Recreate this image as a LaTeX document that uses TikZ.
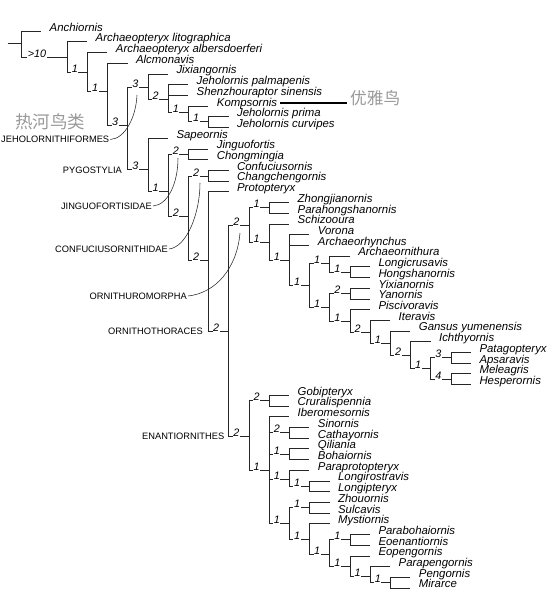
\documentclass[tikz,border=0pt]{standalone}
\usepackage{fontspec}
\setmainfont{Liberation Sans}
\newfontfamily\cjkfont{Noto Sans CJK SC}
\usepackage{tikz}

\tikzset{
  branch/.style={line width=0.55pt, draw=black!85},
  taxon/.style={anchor=base west, inner xsep=8.5pt, inner ysep=0pt, outer sep=0pt, font=\fontsize{11.4}{12}\selectfont\itshape},
  support/.style={anchor=base west, xshift=4pt, inner sep=0.6pt, fill=white, font=\fontsize{10.8}{11}\selectfont\itshape},
  clade/.style={anchor=east, inner sep=1pt, font=\fontsize{9.3}{10}\selectfont},
  zhnote/.style={anchor=west, inner sep=0pt, text=black!40, font=\cjkfont\fontsize{17.5}{18}\selectfont},
}

\begin{document}
\begin{tikzpicture}[x=1pt,y=-1pt]
\useasboundingbox (0,0) rectangle (553,600);

% Internal nodes of the tree
\coordinate (stem) at (7.5,43.5);
\coordinate (root) at (21,43.5);
\coordinate (n1) at (67,57);
\coordinate (n2) at (87.2,72);
\coordinate (n3) at (107.4,91);
\coordinate (n4) at (127.6,125);
\coordinate (jehol) at (147.8,87);
\coordinate (n5) at (168,99);
\coordinate (n6) at (188.2,112);
\coordinate (n7) at (208.4,121.5);
\coordinate (pygo) at (147.8,169.5);
\coordinate (n8) at (168,191);
\coordinate (jingu) at (188.2,154);
\coordinate (n9) at (188.2,216);
\coordinate (confu) at (208.4,176);
\coordinate (n10) at (208.4,260.5);
\coordinate (othor) at (228.6,331);
\coordinate (ormor) at (248.8,225);
\coordinate (n11) at (269,207.5);
\coordinate (n12) at (269,242);
\coordinate (n13) at (289.2,260.5);
\coordinate (n14) at (309.4,285);
\coordinate (n15) at (329.6,263.5);
\coordinate (n16) at (349.8,272);
\coordinate (n17) at (329.6,307);
\coordinate (n18) at (349.8,293.4);
\coordinate (n19) at (349.8,321);
\coordinate (n20) at (370,332);
\coordinate (n21) at (390.2,343.5);
\coordinate (n22) at (410.4,355);
\coordinate (n23) at (430.6,368.5);
\coordinate (n24) at (450.8,357.7);
\coordinate (n25) at (450.8,379.1);
\coordinate (enant) at (248.8,436);
\coordinate (n26) at (269,400.5);
\coordinate (n27) at (269,470);
\coordinate (n28) at (289.2,432.6);
\coordinate (n29) at (289.2,454);
\coordinate (n30) at (289.2,479);
\coordinate (n31) at (309.4,486.2);
\coordinate (n32) at (289.2,523);
\coordinate (n33) at (309.4,507.6);
\coordinate (n34) at (309.4,539);
\coordinate (n35) at (329.6,554);
\coordinate (n36) at (349.8,539.7);
\coordinate (n37) at (349.8,566);
\coordinate (n38) at (370,576);
\coordinate (n39) at (390.2,582.6);

% Text Node: taxa
\node[taxon] (anchiornis) at (41.2,31) {Anchiornis};
\node[taxon] (litographica) at (87.2,41.7) {Archaeopteryx litographica};
\node[taxon] (albersdoerferi) at (107.4,52.4) {Archaeopteryx albersdoerferi};
\node[taxon] (alcmonavis) at (127.6,63.1) {Alcmonavis};
\node[taxon] (jixiangornis) at (168,73.8) {Jixiangornis};
\node[taxon] (palmapenis) at (188.2,84.6) {Jeholornis palmapenis};
\node[taxon] (shenzhouraptor) at (188.2,95.3) {Shenzhouraptor sinensis};
\node[taxon] (kompsornis) at (208.4,106) {Kompsornis};
\node[taxon] (prima) at (228.6,116.7) {Jeholornis prima};
\node[taxon] (curvipes) at (228.6,127.4) {Jeholornis curvipes};
\node[taxon] (sapeornis) at (168,138.1) {Sapeornis};
\node[taxon] (jinguofortis) at (208.4,148.8) {Jinguofortis};
\node[taxon] (chongmingia) at (208.4,159.5) {Chongmingia};
\node[taxon] (confuciusornis) at (228.6,170.2) {Confuciusornis};
\node[taxon] (changchengornis) at (228.6,180.9) {Changchengornis};
\node[taxon] (protopteryx) at (228.6,191.7) {Protopteryx};
\node[taxon] (zhongjianornis) at (289.2,202.4) {Zhongjianornis};
\node[taxon] (parahongshanornis) at (289.2,213.1) {Parahongshanornis};
\node[taxon] (schizooura) at (289.2,223.8) {Schizooura};
\node[taxon] (vorona) at (309.4,234.5) {Vorona};
\node[taxon] (archaeorhynchus) at (309.4,245.2) {Archaeorhynchus};
\node[taxon] (archaeornithura) at (349.8,255.9) {Archaeornithura};
\node[taxon] (longicrusavis) at (370,266.6) {Longicrusavis};
\node[taxon] (hongshanornis) at (370,277.3) {Hongshanornis};
\node[taxon] (yixianornis) at (370,288) {Yixianornis};
\node[taxon] (yanornis) at (370,298.8) {Yanornis};
\node[taxon] (piscivoravis) at (370,309.5) {Piscivoravis};
\node[taxon] (iteravis) at (390.2,320.2) {Iteravis};
\node[taxon] (gansus) at (410.4,330.9) {Gansus yumenensis};
\node[taxon] (ichthyornis) at (430.6,341.6) {Ichthyornis};
\node[taxon] (patagopteryx) at (471,352.3) {Patagopteryx};
\node[taxon] (apsaravis) at (471,363) {Apsaravis};
\node[taxon] (meleagris) at (471,373.7) {Meleagris};
\node[taxon] (hesperornis) at (471,384.4) {Hesperornis};
\node[taxon] (gobipteryx) at (289.2,395.1) {Gobipteryx};
\node[taxon] (cruralispennia) at (289.2,405.9) {Cruralispennia};
\node[taxon] (iberomesornis) at (289.2,416.6) {Iberomesornis};
\node[taxon] (sinornis) at (309.4,427.3) {Sinornis};
\node[taxon] (cathayornis) at (309.4,438) {Cathayornis};
\node[taxon] (qiliania) at (309.4,448.7) {Qiliania};
\node[taxon] (bohaiornis) at (309.4,459.4) {Bohaiornis};
\node[taxon] (paraprotopteryx) at (309.4,470.1) {Paraprotopteryx};
\node[taxon] (longirostravis) at (329.6,480.8) {Longirostravis};
\node[taxon] (longipteryx) at (329.6,491.5) {Longipteryx};
\node[taxon] (zhouornis) at (329.6,502.2) {Zhouornis};
\node[taxon] (sulcavis) at (329.6,513) {Sulcavis};
\node[taxon] (mystiornis) at (329.6,523.7) {Mystiornis};
\node[taxon] (parabohaiornis) at (370,534.4) {Parabohaiornis};
\node[taxon] (eoenantiornis) at (370,545.1) {Eoenantiornis};
\node[taxon] (eopengornis) at (370,555.8) {Eopengornis};
\node[taxon] (parapengornis) at (390.2,566.5) {Parapengornis};
\node[taxon] (pengornis) at (410.4,577.2) {Pengornis};
\node[taxon] (mirarce) at (410.4,587.9) {Mirarce};

% Branches
\draw[branch] (stem) -- (root);
\draw[branch] (root) |- (anchiornis.base west) (root) |- (n1);
\draw[branch] (n1) |- (litographica.base west) (n1) |- (n2);
\draw[branch] (n2) |- (albersdoerferi.base west) (n2) |- (n3);
\draw[branch] (n3) |- (alcmonavis.base west) (n3) |- (n4);
\draw[branch] (n4) |- (jehol) (n4) |- (pygo);
\draw[branch] (jehol) |- (jixiangornis.base west) (jehol) |- (n5);
\draw[branch] (n5) |- (palmapenis.base west) (n5) |- (shenzhouraptor.base west) (n5) |- (n6);
\draw[branch] (n6) |- (kompsornis.base west) (n6) |- (n7);
\draw[branch] (n7) |- (prima.base west) (n7) |- (curvipes.base west);
\draw[branch] (pygo) |- (sapeornis.base west) (pygo) |- (n8);
\draw[branch] (n8) |- (jingu) (n8) |- (n9);
\draw[branch] (jingu) |- (jinguofortis.base west) (jingu) |- (chongmingia.base west);
\draw[branch] (n9) |- (confu) (n9) |- (n10);
\draw[branch] (confu) |- (confuciusornis.base west) (confu) |- (changchengornis.base west);
\draw[branch] (n10) |- (protopteryx.base west) (n10) |- (othor);
\draw[branch] (othor) |- (ormor) (othor) |- (enant);
\draw[branch] (ormor) |- (n11) (ormor) |- (n12);
\draw[branch] (n11) |- (zhongjianornis.base west) (n11) |- (parahongshanornis.base west);
\draw[branch] (n12) |- (schizooura.base west) (n12) |- (n13);
\draw[branch] (n13) |- (vorona.base west) (n13) |- (archaeorhynchus.base west) (n13) |- (n14);
\draw[branch] (n14) |- (n15) (n14) |- (n17);
\draw[branch] (n15) |- (archaeornithura.base west) (n15) |- (n16);
\draw[branch] (n16) |- (longicrusavis.base west) (n16) |- (hongshanornis.base west);
\draw[branch] (n17) |- (n18) (n17) |- (n19);
\draw[branch] (n18) |- (yixianornis.base west) (n18) |- (yanornis.base west);
\draw[branch] (n19) |- (piscivoravis.base west) (n19) |- (n20);
\draw[branch] (n20) |- (iteravis.base west) (n20) |- (n21);
\draw[branch] (n21) |- (gansus.base west) (n21) |- (n22);
\draw[branch] (n22) |- (ichthyornis.base west) (n22) |- (n23);
\draw[branch] (n23) |- (n24) (n23) |- (n25);
\draw[branch] (n24) |- (patagopteryx.base west) (n24) |- (apsaravis.base west);
\draw[branch] (n25) |- (meleagris.base west) (n25) |- (hesperornis.base west);
\draw[branch] (enant) |- (n26) (enant) |- (n27);
\draw[branch] (n26) |- (gobipteryx.base west) (n26) |- (cruralispennia.base west);
\draw[branch] (n27) |- (iberomesornis.base west) (n27) |- (n28) (n27) |- (n29) (n27) |- (n30) (n27) |- (n32);
\draw[branch] (n28) |- (sinornis.base west) (n28) |- (cathayornis.base west);
\draw[branch] (n29) |- (qiliania.base west) (n29) |- (bohaiornis.base west);
\draw[branch] (n30) |- (paraprotopteryx.base west) (n30) |- (n31);
\draw[branch] (n31) |- (longirostravis.base west) (n31) |- (longipteryx.base west);
\draw[branch] (n32) |- (n33) (n32) |- (n34);
\draw[branch] (n33) |- (zhouornis.base west) (n33) |- (sulcavis.base west);
\draw[branch] (n34) |- (mystiornis.base west) (n34) |- (n35);
\draw[branch] (n35) |- (n36) (n35) |- (n37);
\draw[branch] (n36) |- (parabohaiornis.base west) (n36) |- (eoenantiornis.base west);
\draw[branch] (n37) |- (eopengornis.base west) (n37) |- (n38);
\draw[branch] (n38) |- (parapengornis.base west) (n38) |- (n39);
\draw[branch] (n39) |- (pengornis.base west) (n39) |- (mirarce.base west);

% Text Node: support values
\path (root |- n1) node[support, xshift=2pt] (sn1) {>10};
\path (n1 |- n2) node[support] (sn2) {1};
\path (n2 |- n3) node[support] (sn3) {1};
\path (n3 |- n4) node[support] (sn4) {3};
\path (n4 |- jehol) node[support] (sjehol) {3};
\path (jehol |- n5) node[support] (sn5) {2};
\path (n5 |- n6) node[support] (sn6) {1};
\path (n6 |- n7) node[support] (sn7) {1};
\path (n4 |- pygo) node[support] (spygo) {3};
\path (pygo |- n8) node[support] (sn8) {1};
\path (n8 |- jingu) node[support] (sjingu) {2};
\path (n8 |- n9) node[support] (sn9) {2};
\path (n9 |- confu) node[support] (sconfu) {2};
\path (n9 |- n10) node[support] (sn10) {2};
\path (n10 |- othor) node[support] (sothor) {2};
\path (othor |- ormor) node[support] (sormor) {2};
\path (ormor |- n11) node[support] (sn11) {1};
\path (ormor |- n12) node[support] (sn12) {1};
\path (n12 |- n13) node[support] (sn13) {1};
\path (n13 |- n14) node[support] (sn14) {1};
\path (n14 |- n15) node[support] (sn15) {1};
\path (n15 |- n16) node[support] (sn16) {1};
\path (n14 |- n17) node[support] (sn17) {1};
\path (n17 |- n18) node[support] (sn18) {2};
\path (n17 |- n19) node[support] (sn19) {1};
\path (n19 |- n20) node[support] (sn20) {2};
\path (n20 |- n21) node[support] (sn21) {1};
\path (n21 |- n22) node[support] (sn22) {2};
\path (n22 |- n23) node[support] (sn23) {1};
\path (n23 |- n24) node[support] (sn24) {3};
\path (n23 |- n25) node[support] (sn25) {4};
\path (othor |- enant) node[support] (senant) {2};
\path (enant |- n26) node[support] (sn26) {2};
\path (enant |- n27) node[support] (sn27) {1};
\path (n27 |- n28) node[support] (sn28) {2};
\path (n27 |- n29) node[support] (sn29) {1};
\path (n27 |- n30) node[support] (sn30) {1};
\path (n30 |- n31) node[support] (sn31) {1};
\path (n27 |- n32) node[support] (sn32) {1};
\path (n32 |- n33) node[support] (sn33) {1};
\path (n32 |- n34) node[support] (sn34) {1};
\path (n34 |- n35) node[support] (sn35) {1};
\path (n35 |- n36) node[support] (sn36) {1};
\path (n35 |- n37) node[support] (sn37) {1};
\path (n37 |- n38) node[support] (sn38) {1};
\path (n38 |- n39) node[support] (sn39) {1};

% Text Node: clade names
\node[clade, anchor=west] (jehlab) at (0,139.5) {JEHOLORNITHIFORMES};
\node[clade] (pyglab) at (123,170) {PYGOSTYLIA};
\node[clade] (jinlab) at (153,206) {JINGUOFORTISIDAE};
\node[clade] (conlab) at (169,249) {CONFUCIUSORNITHIDAE};
\node[clade] (ormlab) at (188,296) {ORNITHUROMORPHA};
\node[clade] (othlab) at (204,331) {ORNITHOTHORACES};
\node[clade] (enalab) at (225.5,436) {ENANTIORNITHES};

% Pointer curves
\coordinate (jehtip) at (137,95);
\coordinate (jintip) at (178,158);
\coordinate (contip) at (200,183);
\coordinate (ormtip) at (240,233);
\draw[branch] (jehlab.east) .. controls +(15,-1) and +(-1,22) .. (jehtip);
\draw[branch] (jinlab.east) .. controls +(15,-1) and +(0,25) .. (jintip);
\draw[branch] (conlab.east) .. controls +(18,-2) and +(0,30) .. (contip);
\draw[branch] (ormlab.east) .. controls +(28,-3) and +(-3,35) .. (ormtip);

% Text Node: Chinese notes
\node[zhnote] (rehe) at (15,121.5) {热河鸟类};
\node[zhnote, inner xsep=3pt, font=\cjkfont\fontsize{16.7}{17}\selectfont] (youya) at (347,98.5) {优雅鸟};
\draw[line width=2.6pt] ([xshift=-5.5pt]kompsornis.east) -- (youya.west |- kompsornis.east);

\end{tikzpicture}
\end{document}
